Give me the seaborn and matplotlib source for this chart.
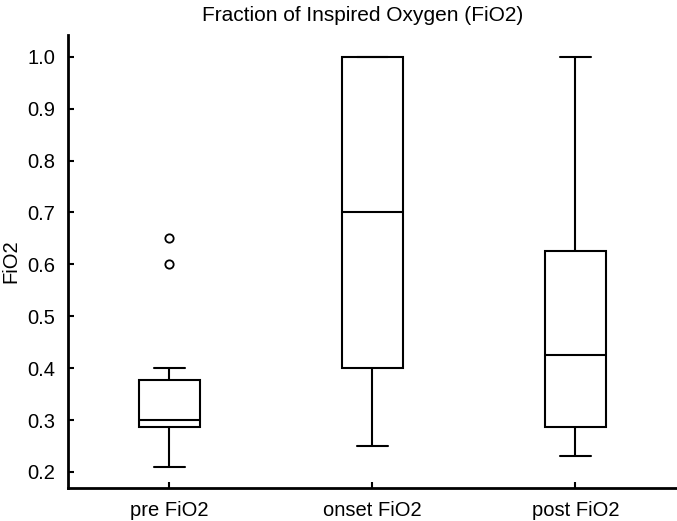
import pandas as pd
import matplotlib
matplotlib.use("Agg")
import matplotlib.pyplot as plt
import seaborn as sns

# FiO2 values per phase
groups = ["pre FiO2", "onset FiO2", "post FiO2"]
pre_fio2 = [0.21, 0.25, 0.28, 0.287, 0.29, 0.30, 0.30, 0.35, 0.37, 0.378, 0.40, 0.60, 0.65]
onset_fio2 = [0.25, 0.40, 0.70, 1.0, 1.0]
post_fio2 = [0.23, 0.287, 0.425, 0.625, 1.0]
y_ticks = [0.2, 0.3, 0.4, 0.5, 0.6, 0.7, 0.8, 0.9, 1.0]

df = pd.DataFrame({
    "group": [groups[0]] * len(pre_fio2) + [groups[1]] * len(onset_fio2) + [groups[2]] * len(post_fio2),
    "FiO2": pre_fio2 + onset_fio2 + post_fio2,
})

sns.set_style("ticks", {"axes.edgecolor": "black", "text.color": "black",
                        "axes.labelcolor": "black", "xtick.color": "black",
                        "ytick.color": "black"})
plt.rcParams["font.family"] = ["Liberation Sans", "DejaVu Sans"]

fig = plt.figure(figsize=(6.77, 5.21), dpi=100)
ax = fig.add_axes([0.1004, 0.0633, 0.8996, 0.8695])

sns.boxplot(data=df, x="group", y="FiO2", order=groups, ax=ax,
            color="white", linecolor="black", linewidth=1.5, width=0.3,
            flierprops=dict(marker="o", markerfacecolor="none", markeredgecolor="black",
                            markersize=6, markeredgewidth=1.3))

ax.set_xlim(-0.5, 2.5)
ax.set_ylim(0.169, 1.042)
ax.set_yticks(y_ticks)
ax.set_yticklabels([f"{v:.1f}" for v in y_ticks])
ax.set_xlabel("")
ax.set_ylabel("FiO2", fontsize=14.5, labelpad=5)
ax.set_title("Fraction of Inspired Oxygen (FiO2)", fontsize=15, pad=10, x=0.484)
ax.tick_params(axis="both", direction="in", length=4, width=1.5, labelsize=14.5, pad=9)
sns.despine(ax=ax)
for s in ["left", "bottom"]:
    ax.spines[s].set_linewidth(2)

fig.savefig("out.png", dpi=100)
